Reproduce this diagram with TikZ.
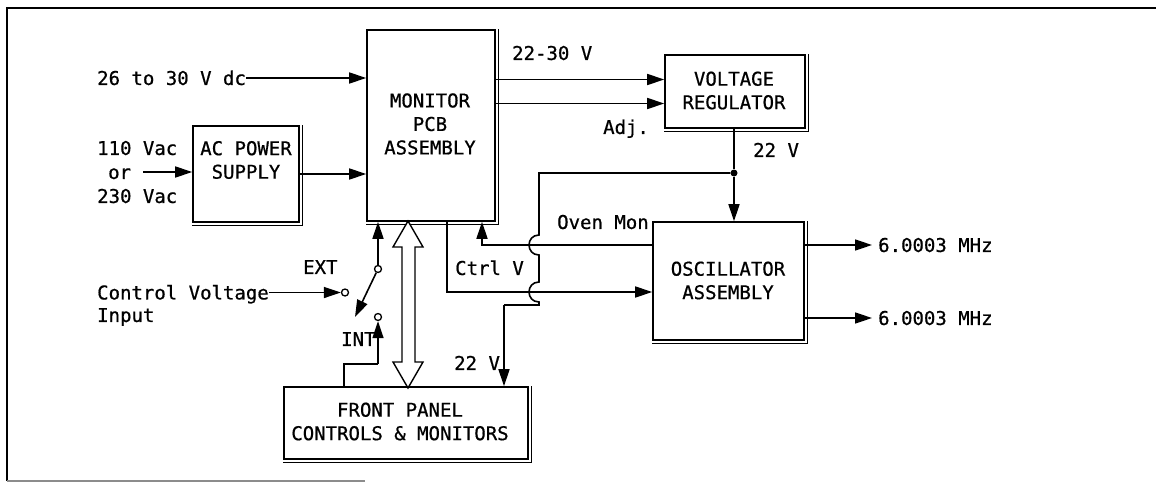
\documentclass[tikz,border=0pt]{standalone}
\usepackage{fontspec}
\setmainfont[FakeBold=0.7,BoldFont={DejaVu Sans Mono}]{DejaVu Sans Mono}
\usetikzlibrary{arrows.meta}
\begin{document}
\begin{tikzpicture}[x=1pt,y=-1pt,
  every node/.style={font=\fontsize{19}{23.5}\selectfont, inner sep=0pt},
  box/.style={draw, line width=1.6pt},
  lbl/.style={anchor=west, text height=13.9pt, text depth=0pt},
  blbl/.style={align=center},
  wire/.style={line width=1.6pt},
  arr/.style={wire, -{Triangle[length=17pt,width=11pt]}},
  contact/.style={circle, draw, line width=1.3pt, minimum size=7pt, inner sep=0pt, fill=white},
  shadowline/.style={line width=1pt}
]
\useasboundingbox (0,0) rectangle (1156,482);
% frame
\draw[line width=2pt] (1156,8) -- (7,8) -- (7,481);
\draw[line width=1.2pt, black!45] (7,481) -- (365,481);

% boxes
\node[box, minimum width=128pt, minimum height=191pt] (mon) at (431,125.5) {};
\node[box, minimum width=106pt, minimum height=96pt] (ac) at (246,174) {};
\node[box, minimum width=140pt, minimum height=73pt] (vr) at (735,91.5) {};
\node[box, minimum width=151pt, minimum height=118pt] (osc) at (728.5,281) {};
\node[box, minimum width=244pt, minimum height=72pt] (fp) at (406,423) {};
\foreach \b in {mon,ac,vr,osc,fp}
  \draw[shadowline] ([xshift=2.2pt]\b.north east) -- ([xshift=2.2pt,yshift=-2.2pt]\b.south east) -- ([yshift=-2.2pt]\b.south west);

% box labels
\node[blbl] (monl) at (430,124) {MONITOR\\PCB\\ASSEMBLY};
\node[blbl] (acl) at (246,160) {AC POWER\\SUPPLY};
\node[blbl] (vrl) at (734,90.5) {VOLTAGE\\REGULATOR};
\node[blbl] (oscl) at (728,280.5) {OSCILLATOR\\ASSEMBLY};
\node[blbl] (fpl) at (400,421.5) {FRONT PANEL\\CONTROLS \& MONITORS};

% free labels
\node[lbl] (dc) at (97,78) {26 to 30 V dc};
\node[lbl] (v110) at (97,148) {110 Vac};
\node[lbl] (orn) at (108,172) {or};
\node[lbl] (v230) at (97,196) {230 Vac};
\node[lbl] (v2230) at (512,53) {22-30 V};
\node[lbl] (adj) at (603,127) {Adj.};
\node[lbl] (v22a) at (753,150) {22 V};
\node[lbl] (oven) at (557,222) {Oven Mon};
\node[lbl] (ctrl) at (455,268) {Ctrl V};
\node[lbl] (f1) at (878,245) {6.0003 MHz};
\node[lbl] (f2) at (878,318) {6.0003 MHz};
\node[lbl] (extl) at (303,267) {EXT};
\node[lbl] (intl) at (341,339) {INT};
\node[lbl] (cvt) at (97,292.5) {Control Voltage};
\node[lbl] (cvi) at (97,315) {Input};
\node[lbl] (v22b) at (454,363) {22 V};

% inputs
\draw[arr] (dc.east) -- (mon.west |- dc.east);
\draw[arr] ([xshift=12pt]orn.east) -- (ac.west |- orn.east);
\draw[arr] (ac.east) -- (mon.west |- ac.east);

% monitor to regulator
\coordinate (vrin1) at ([yshift=12pt]vr.west);
\coordinate (vrin2) at ([yshift=-12pt]vr.west);
\draw[arr] (mon.east |- vrin1) -- (vrin1);
\draw[arr] (mon.east |- vrin2) -- (vrin2);

% 22 V distribution
\node[circle, fill, minimum size=7pt] (jn) at (734,173) {};
\draw[wire] (vr.south -| jn) -- (jn);
\draw[arr] (jn) -- (osc.north -| jn);
\coordinate (hx) at (539,173);
\coordinate (hb) at (539,305);
\coordinate (hc) at (504,305);
\draw[wire] (jn) -- (hx) -- (539,235) .. controls (525.7,235) and (525.7,255) .. (539,255)
  -- (539,282) .. controls (525.7,282) and (525.7,302) .. (539,302) -- (hb) -- (hc);
\draw[arr] (hc) -- (hc |- fp.north);

% oven mon
\coordinate (omA) at (osc.west |- 0,245);
\coordinate (omB) at (482,245);
\draw[arr] (omA) -- (omB) -- (omB |- mon.south);

% ctrl V
\coordinate (cvA) at (447,292);
\draw[arr] (cvA |- mon.south) -- (cvA) -- (cvA -| osc.west);

% outputs
\draw[arr] (osc.east |- f1.west) -- ([xshift=-6pt]f1.west);
\draw[arr] (osc.east |- f2.west) -- ([xshift=-6pt]f2.west);

% switch
\node[contact] (piv) at (378,269) {};
\node[contact] (ext) at (345,292.5) {};
\node[contact] (int) at (378,317) {};
\coordinate (armend) at (355,317);
\draw[arr] (piv) -- (piv |- mon.south);
\draw[arr] (piv) -- (armend);
\draw[arr] (cvt.east) -- (ext);
\coordinate (i1) at (344,364);
\draw[wire] (i1 |- fp.north) -- (i1) -- (i1 -| int);
\draw[arr] (i1 -| int) -- (int);

% bus arrow
\draw[line width=1.4pt, fill=white, line join=miter]
  (408,221) -- (423,247) -- (415,247) -- (415,362) -- (423,362) -- (408,388)
  -- (393,362) -- (402,362) -- (402,247) -- (393,247) -- cycle;
\end{tikzpicture}
\end{document}
